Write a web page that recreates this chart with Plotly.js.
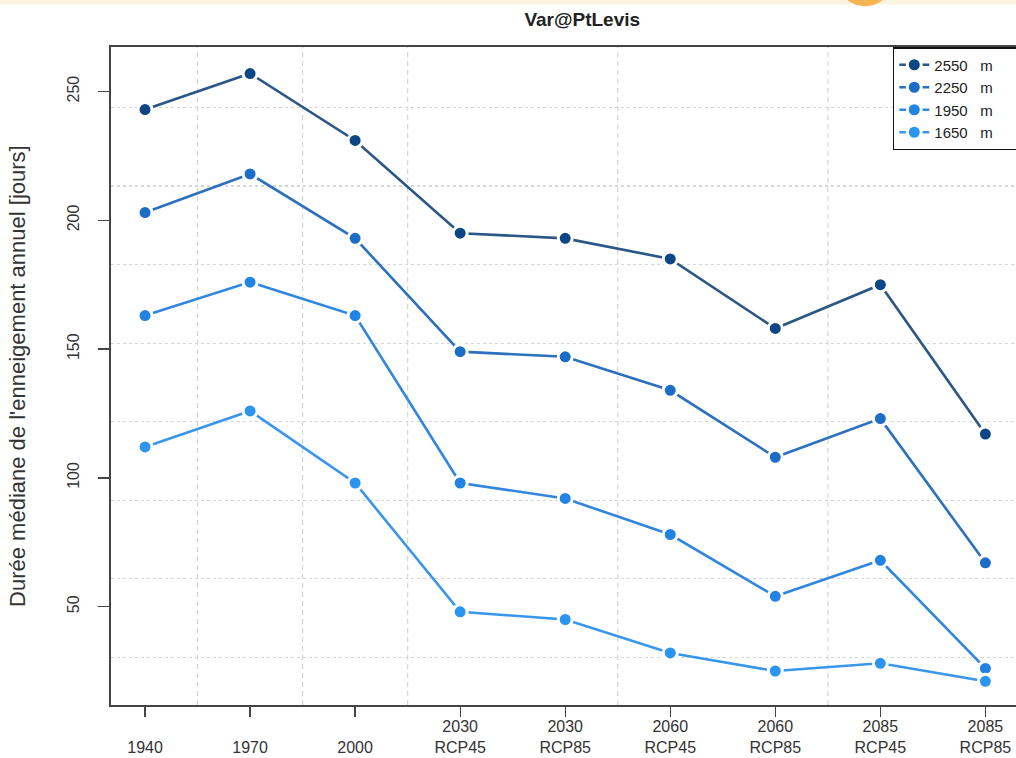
<!DOCTYPE html>
<html>
<head>
<meta charset="utf-8">
<script src="https://cdn.plot.ly/plotly-3.0.1.min.js"></script>
<style>
  html, body { margin: 0; padding: 0; overflow: hidden; background: #ffffff; }
  #chart { width: 1040px; height: 758px; }
</style>
</head>
<body>
<div id="chart"></div>
<script>
// ---- data ----
const periods   = ["1940", "1970", "2000", "2030", "2030", "2060", "2060", "2085", "2085"];
const scenarios = ["", "", "", "RCP45", "RCP85", "RCP45", "RCP85", "RCP45", "RCP85"];
const seriesNames = ["2550\u00a0\u00a0 m", "2250\u00a0\u00a0 m", "1950\u00a0\u00a0 m", "1650\u00a0\u00a0 m"];
const v2550 = [243, 257, 231, 195, 193, 185, 158, 175, 117];
const v2250 = [203, 218, 193, 149, 147, 134, 108, 123, 67];
const v1950 = [163, 176, 163, 98, 92, 78, 54, 68, 26];
const v1650 = [112, 126, 98, 48, 45, 32, 25, 28, 21];
const yTicks = [50, 100, 150, 200, 250];

// ---- styles ----
const markerColors = ["#0d4685", "#1c6dc6", "#2183e4", "#2c95f0"];
const lineColors   = ["#2b5786", "#2d70bd", "#3186dd", "#3a96ea"];

const idx = periods.map((_, i) => i);
const tickText = periods.map((p, i) => scenarios[i] ? p + "<br>" + scenarios[i] : "&nbsp;<br>" + p);
const legendPad = "\u00a0\u00a0\u00a0\u00a0\u00a0\u00a0";

const allSeries = [v2550, v2250, v1950, v1650];
const traces = allSeries.map((vals, k) => ({
  x: idx,
  y: vals,
  type: "scatter",
  mode: "lines+markers",
  name: seriesNames[k] + legendPad,
  line: { color: lineColors[k], width: 2.6 },
  marker: { color: markerColors[k], size: 14, line: { color: "#ffffff", width: 3 } },
  hoverinfo: "x+y"
}));
// empty trace to host the dotted horizontal grid axis
traces.push({ x: [], y: [], yaxis: "y2", type: "scatter", mode: "markers", showlegend: false, hoverinfo: "skip" });

// separators between period groups
const shapes = [];
for (let i = 0; i < periods.length - 1; i++) {
  if (periods[i] !== periods[i + 1]) {
    shapes.push({
      type: "line", xref: "x", yref: "paper",
      x0: i + 0.5, x1: i + 0.5, y0: 0, y1: 1,
      line: { color: "#d6d6d6", width: 1.2, dash: "5px,4px" },
      layer: "below"
    });
  }
}
// faint decoration at top of the picture
shapes.push({ type: "rect", xref: "paper", yref: "paper", x0: -0.13, x1: 1.0, y0: 1.0645, y1: 1.0735,
  fillcolor: "#fbf4dc", line: { width: 0 }, layer: "below" });
shapes.push({ type: "circle", xref: "paper", yref: "paper", x0: 0.8040, x1: 0.8570, y0: 1.0620, y1: 1.12,
  fillcolor: "#f2a531", line: { width: 0 }, opacity: 0.8, layer: "below" });

const yRange = [11.8, 267.3];

const layout = {
  width: 1040,
  height: 758,
  margin: { l: 111, r: 21, t: 47, b: 52.5, pad: 0 },
  paper_bgcolor: "#ffffff",
  plot_bgcolor: "#ffffff",
  font: { family: "Liberation Sans, Arial, sans-serif", color: "#333333", size: 15 },
  title: {
    text: "<b>Var@PtLevis</b>",
    font: { family: "Liberation Sans, Arial, sans-serif", size: 19, color: "#222222" },
    xref: "paper", x: 0.519, xanchor: "center",
    yref: "container", y: 0.974, yanchor: "middle"
  },
  xaxis: {
    range: [-0.324, 8.32],
    tickmode: "array",
    tickvals: idx,
    ticktext: tickText,
    ticks: "outside",
    ticklen: 10,
    tickwidth: 1.3,
    tickcolor: "#444444",
    ticklabelstandoff: -4,
    showline: true,
    mirror: true,
    linecolor: "#444444",
    linewidth: 1.6,
    showgrid: false,
    zeroline: false,
    tickfont: { size: 16, color: "#333333" },
    fixedrange: true
  },
  yaxis: {
    range: yRange,
    tickmode: "array",
    tickvals: yTicks,
    ticks: "outside",
    ticklen: 11,
    tickwidth: 1.3,
    tickcolor: "#444444",
    tickangle: -90,
    ticklabelstandoff: 13,
    showline: true,
    mirror: true,
    linecolor: "#444444",
    linewidth: 1.6,
    showgrid: false,
    zeroline: false,
    tickfont: { size: 16, color: "#333333" },
    fixedrange: true
  },
  yaxis2: {
    overlaying: "y",
    range: yRange,
    tick0: 30.3,
    dtick: 30.5,
    showgrid: true,
    griddash: "dot",
    gridcolor: "#d6d6d6",
    gridwidth: 1.3,
    showticklabels: false,
    ticks: "",
    showline: false,
    zeroline: false,
    layer: "below traces",
    fixedrange: true
  },
  showlegend: true,
  legend: {
    x: 0.861, xanchor: "left",
    y: 1, yanchor: "top",
    bgcolor: "#ffffff",
    bordercolor: "#111111",
    borderwidth: 1.5,
    font: { size: 15, color: "#222222" },
    tracegroupgap: 0
  },
  shapes: shapes,
  annotations: [{
    text: "Durée médiane de l'enneigement annuel [jours]",
    xref: "paper", yref: "paper",
    x: -0.1036, y: 0.5,
    xanchor: "center", yanchor: "middle",
    textangle: -90,
    showarrow: false,
    font: { size: 22, color: "#333333" }
  }]
};

Plotly.newPlot("chart", traces, layout, { displayModeBar: false, staticPlot: true });
</script>
</body>
</html>
